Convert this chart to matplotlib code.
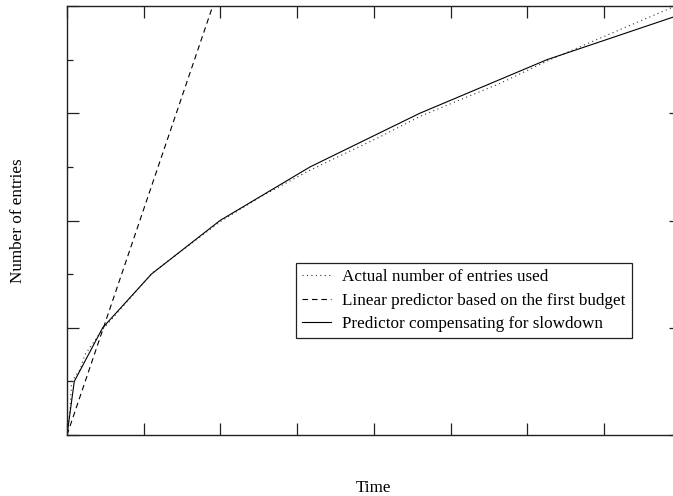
import matplotlib
matplotlib.use("Agg")
import matplotlib.pyplot as plt
from matplotlib.ticker import MultipleLocator, NullFormatter

plt.rcParams['font.family'] = ['Liberation Serif', 'DejaVu Serif']

# values (x in tick units, y in major tick units)
actual_x = [0.0, 0.04, 0.06, 0.17, 0.235, 0.46, 1.11, 2.0, 2.52, 3.17, 4.08, 4.60, 5.65, 6.30, 7.21, 8.0]
actual_y = [0.0, 0.23, 0.50, 0.61, 0.75, 0.98, 1.51, 1.99, 2.22, 2.47, 2.78, 2.97, 3.28, 3.50, 3.78, 4.02]

linear_x = [0.0, 1.90]
linear_y = [0.0, 4.0]

comp_x = [0.0, 0.095, 0.465, 1.10, 1.995, 3.17, 4.60, 6.26, 8.0]
comp_y = [0.0, 0.5, 1.0, 1.5, 2.0, 2.5, 3.0, 3.5, 3.92]

labels = ["Actual number of entries used",
          "Linear predictor based on the first budget",
          "Predictor compensating for slowdown"]

fig = plt.figure(figsize=(6.73, 4.96), dpi=100)
# right edge sits outside the picture, as in the reference crop
ax = fig.add_axes([67/673, (496-435)/496, 613.6/673, 429/496])

ax.plot(actual_x, actual_y, color='#333333', lw=0.8, linestyle=(0, (1, 3)), label=labels[0])
ax.plot(linear_x, linear_y, color='black', lw=0.8, linestyle=(0, (5, 3.5)), label=labels[1])
ax.plot(comp_x, comp_y, color='black', lw=0.8, label=labels[2])

ax.set_xlim(0, 8)
ax.set_ylim(0, 4)
ax.xaxis.set_major_locator(MultipleLocator(1))
ax.yaxis.set_major_locator(MultipleLocator(1))
ax.yaxis.set_minor_locator(MultipleLocator(0.5))
ax.xaxis.set_major_formatter(NullFormatter())
ax.yaxis.set_major_formatter(NullFormatter())
ax.tick_params(which='both', direction='in', top=True, right=True, color='#222222', width=0.9)
ax.tick_params(which='major', length=8.6)
ax.tick_params(which='minor', length=4.3)
for s in ax.spines.values():
  s.set_linewidth(1.0)
  s.set_color('#222222')

ax.set_ylabel("Number of entries", fontsize=12.3, labelpad=26)
ax.set_xlabel("Time", fontsize=12.3, labelpad=29)

leg = ax.legend(loc='upper left', bbox_to_anchor=(0.373, 0.401), borderaxespad=0,
                fontsize=12.3, fancybox=False, framealpha=1, edgecolor='#222222',
                handlelength=1.65, handletextpad=0.65, labelspacing=0.42, borderpad=0.38)
leg.get_frame().set_linewidth(0.9)

fig.savefig("out.png", dpi=100)
